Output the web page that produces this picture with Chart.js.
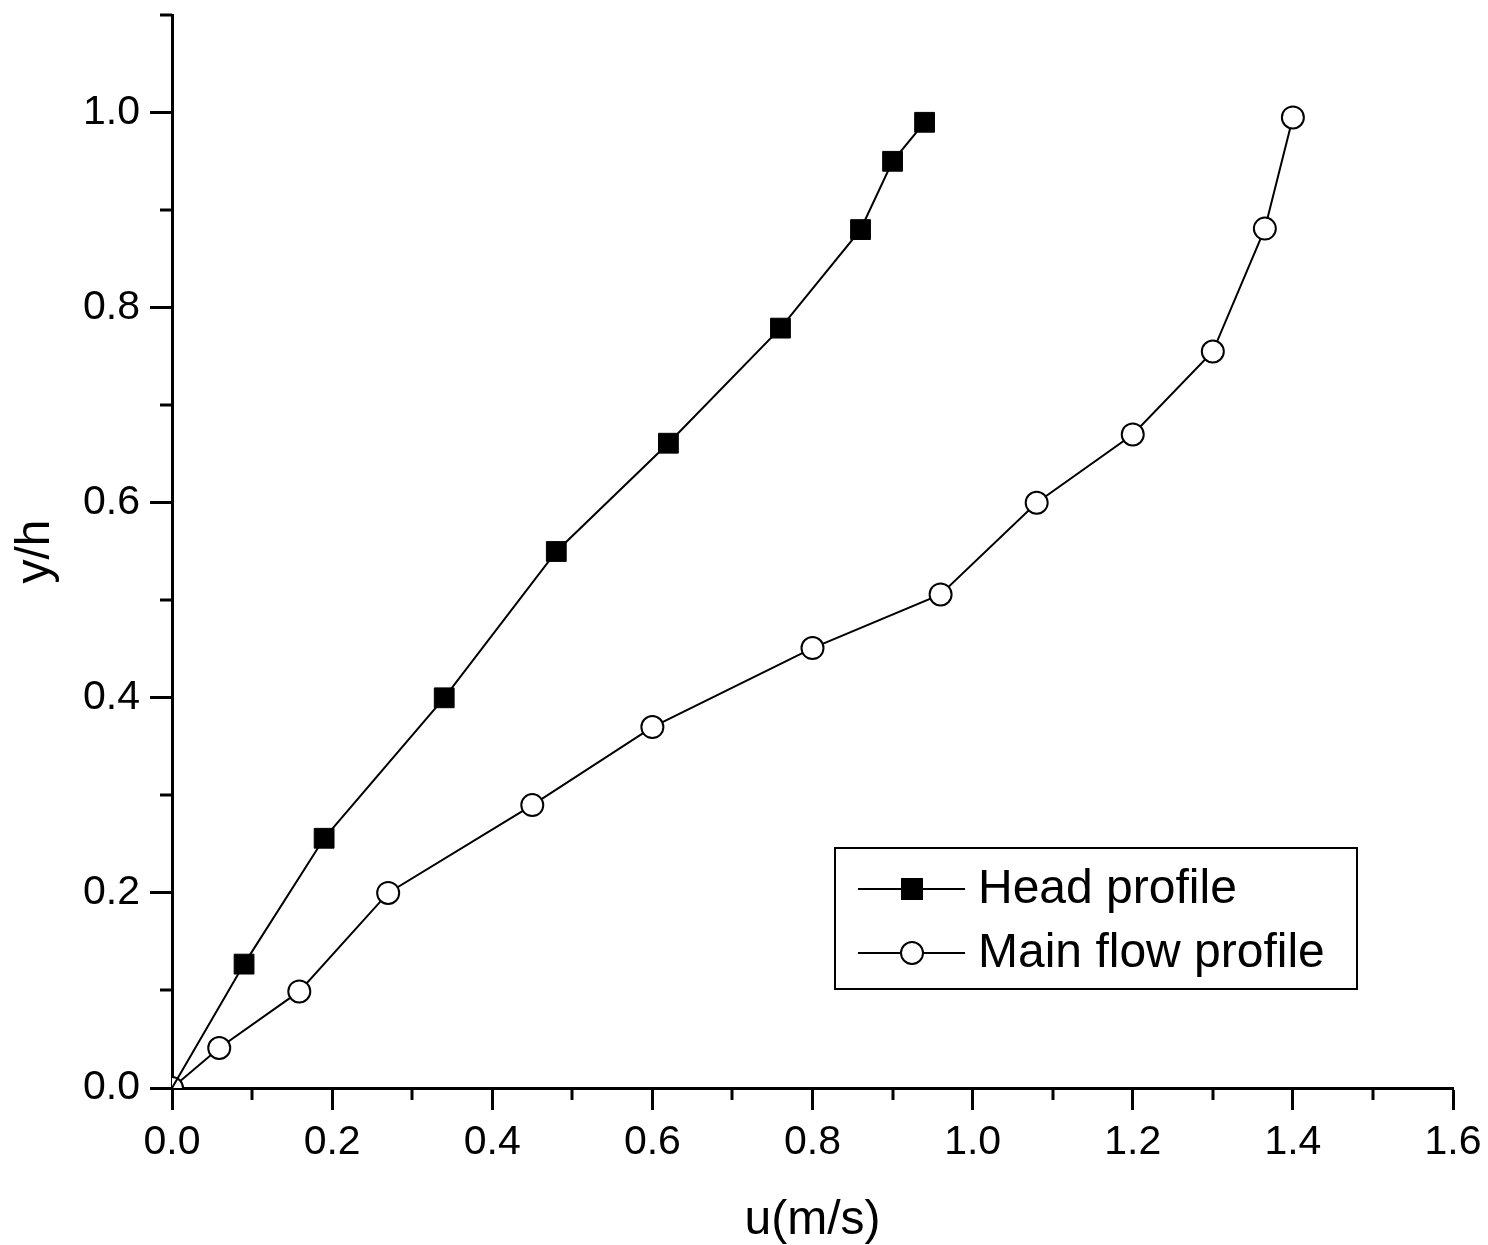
<!DOCTYPE html>
<html>
<head>
<meta charset="utf-8">
<script src="https://cdn.jsdelivr.net/npm/chart.js@4.4.1/dist/chart.umd.min.js"></script>
<style>
  html, body { margin: 0; padding: 0; background: #fff; }
  #wrap { width: 1488px; height: 1245px; }
</style>
</head>
<body>
<div id="wrap"><canvas id="chart" width="1488" height="1245"></canvas></div>
<script>
// velocity u (m/s) vs relative depth y/h
const headU = [0, 0.09, 0.19, 0.34, 0.48, 0.62, 0.76, 0.86, 0.90, 0.94];
const headY = [0, 0.127, 0.256, 0.40, 0.55, 0.661, 0.779, 0.88, 0.95, 0.99];
const mainU = [0, 0.059, 0.159, 0.27, 0.45, 0.60, 0.80, 0.96, 1.08, 1.20, 1.30, 1.365, 1.40];
const mainY = [0, 0.041, 0.099, 0.20, 0.29, 0.37, 0.451, 0.506, 0.60, 0.67, 0.755, 0.881, 0.995];
const seriesNames = ['Head profile', 'Main flow profile'];
const xTitle = 'u(m/s)';
const yTitle = 'y/h';

const FONT = '"Liberation Sans", Arial, sans-serif';
const toPoints = (xs, ys) => xs.map((x, i) => ({ x: x, y: ys[i] }));
const isMajor = v => Math.round(v * 10) % 2 === 0;

// minor ticks are shorter than the major ones, so they are drawn here
const minorTicks = {
    id: 'minorTicks',
    afterDraw(chart) {
        const ctx = chart.ctx;
        const xs = chart.scales.x, ys = chart.scales.y;
        ctx.save();
        ctx.strokeStyle = '#000';
        ctx.lineWidth = 3;
        ctx.beginPath();
        xs.ticks.forEach(t => {
            if (isMajor(t.value)) return;
            const px = Math.round(xs.getPixelForValue(t.value));
            ctx.moveTo(px, xs.top);
            ctx.lineTo(px, xs.top + 12);
        });
        ys.ticks.forEach(t => {
            if (isMajor(t.value)) return;
            const py = Math.round(ys.getPixelForValue(t.value));
            ctx.moveTo(ys.right, py);
            ctx.lineTo(ys.right - 12, py);
        });
        ctx.stroke();
        ctx.restore();
    }
};

// boxed legend in the lower right of the plot
const boxLegend = {
    id: 'boxLegend',
    afterDraw(chart) {
        const ctx = chart.ctx;
        const left = 835, top = 848, w = 522, h = 141;
        ctx.save();
        ctx.fillStyle = '#fff';
        ctx.fillRect(left, top, w, h);
        ctx.strokeStyle = '#000';
        ctx.lineWidth = 2;
        ctx.strokeRect(left, top, w, h);
        const rows = [889, 953];
        chart.data.datasets.forEach((ds, i) => {
            const y = rows[i];
            ctx.lineWidth = 2;
            ctx.beginPath();
            ctx.moveTo(858, y);
            ctx.lineTo(965, y);
            ctx.stroke();
            if (ds.pointStyle === 'rect') {
                ctx.fillStyle = '#000';
                ctx.fillRect(912 - 11, y - 11, 22, 22);
            } else {
                ctx.fillStyle = '#fff';
                ctx.beginPath();
                ctx.arc(912, y, 11, 0, Math.PI * 2);
                ctx.fill();
                ctx.stroke();
            }
            ctx.fillStyle = '#000';
            ctx.font = '48px ' + FONT;
            ctx.textBaseline = 'middle';
            ctx.fillText(ds.label, 978, y + 1);
        });
        ctx.restore();
    }
};

new Chart(document.getElementById('chart'), {
    type: 'scatter',
    data: {
        datasets: [
            {
                label: seriesNames[0],
                data: toPoints(headU, headY),
                showLine: true,
                borderColor: '#000',
                borderWidth: 2,
                pointStyle: 'rect',
                pointRadius: ctx => ctx.dataIndex === 0 ? 0 : 14,
                pointBackgroundColor: '#000',
                pointBorderColor: '#000',
                pointBorderWidth: 1
            },
            {
                label: seriesNames[1],
                data: toPoints(mainU, mainY),
                showLine: true,
                borderColor: '#000',
                borderWidth: 2,
                pointStyle: 'circle',
                pointRadius: 11,
                pointBackgroundColor: '#fff',
                pointBorderColor: '#000',
                pointBorderWidth: 2
            }
        ]
    },
    options: {
        responsive: false,
        animation: false,
        devicePixelRatio: 1,
        layout: { padding: { top: 12, right: 35, left: 0, bottom: 0 } },
        plugins: {
            legend: { display: false },
            tooltip: { enabled: false }
        },
        scales: {
            x: {
                type: 'linear',
                min: 0,
                max: 1.6,
                afterFit: s => { s.height = 157; s.paddingLeft = 0; s.paddingRight = 0; },
                border: { display: true, color: '#000', width: 3 },
                grid: {
                    drawOnChartArea: false,
                    tickLength: 22,
                    tickWidth: 3,
                    tickColor: c => isMajor(c.tick.value) ? '#000' : 'rgba(0,0,0,0)'
                },
                ticks: {
                    stepSize: 0.1,
                    autoSkip: false,
                    maxRotation: 0,
                    padding: 8,
                    color: '#000',
                    font: { family: FONT, size: 41 },
                    callback: v => isMajor(v) ? v.toFixed(1) : ''
                },
                title: {
                    display: true,
                    text: xTitle,
                    color: '#000',
                    font: { family: FONT, size: 48, lineHeight: 1 },
                    padding: { top: 0, bottom: 0 }
                }
            },
            y: {
                type: 'linear',
                min: 0,
                max: 1.1,
                afterFit: s => { s.width = 172; s.paddingTop = 0; s.paddingBottom = 0; },
                border: { display: true, color: '#000', width: 3 },
                grid: {
                    drawOnChartArea: false,
                    tickLength: 22,
                    tickWidth: 3,
                    tickColor: c => isMajor(c.tick.value) ? '#000' : 'rgba(0,0,0,0)'
                },
                ticks: {
                    stepSize: 0.1,
                    autoSkip: false,
                    padding: 10,
                    color: '#000',
                    font: { family: FONT, size: 41 },
                    callback: v => isMajor(v) ? v.toFixed(1) : ''
                },
                title: {
                    display: true,
                    text: yTitle,
                    color: '#000',
                    font: { family: FONT, size: 48, lineHeight: 1 },
                    padding: { top: 12, bottom: 0 }
                }
            }
        }
    },
    plugins: [minorTicks, boxLegend]
});
</script>
</body>
</html>
